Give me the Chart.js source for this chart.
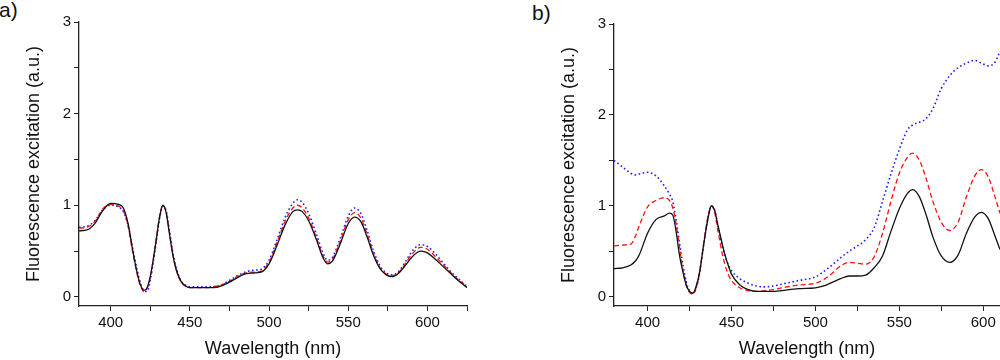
<!DOCTYPE html>
<html>
<head>
<meta charset="utf-8">
<script src="https://cdn.jsdelivr.net/npm/chart.js@4/dist/chart.umd.min.js"></script>
<style>
  html, body { margin:0; padding:0; background:#fff; width:1000px; height:360px; overflow:hidden; }
  .panel { position:absolute; top:0; }
  .tag { position:absolute; font-family:"Liberation Sans", Arial, sans-serif; font-size:21px; color:#111; line-height:1; }
</style>
</head>
<body>
<div class="tag" style="left:-1px; top:-1px;">a)</div>
<div class="tag" style="left:532px; top:2px;">b)</div>
<div class="panel" style="left:0;"><canvas id="chartA" width="500" height="360"></canvas></div>
<div class="panel" style="left:500px;"><canvas id="chartB" width="510" height="360"></canvas></div>
<script>
// panel a)
const wlA = [380,385,390,395,400,405,408,411,414,417,419,421,423,425,427,429,431,433,435,437,439,441,444,447,450,455,460,465,470,475,480,485,490,495,500,505,510,515,518,521,525,530,534,537,540,545,550,554,558,562,566,570,574,578,582,586,590,594,596,600,605,610,615,620,625];
const blackA = [0.72,0.73,0.80,0.94,1.02,1.01,0.97,0.80,0.50,0.24,0.12,0.07,0.10,0.22,0.42,0.65,0.88,1.00,0.92,0.70,0.48,0.32,0.18,0.12,0.10,0.10,0.10,0.10,0.12,0.16,0.21,0.25,0.26,0.27,0.36,0.56,0.78,0.93,0.95,0.93,0.83,0.62,0.43,0.36,0.39,0.58,0.80,0.87,0.82,0.65,0.45,0.31,0.24,0.22,0.26,0.34,0.43,0.49,0.50,0.48,0.41,0.33,0.25,0.17,0.10];
const redA   = [0.75,0.76,0.82,0.96,1.01,0.99,0.94,0.77,0.48,0.23,0.11,0.06,0.09,0.21,0.42,0.66,0.89,1.00,0.93,0.72,0.49,0.32,0.18,0.12,0.10,0.10,0.10,0.11,0.13,0.17,0.22,0.26,0.27,0.28,0.38,0.59,0.82,0.97,1.00,0.97,0.86,0.64,0.45,0.38,0.41,0.61,0.84,0.92,0.86,0.68,0.47,0.32,0.25,0.23,0.27,0.36,0.46,0.53,0.54,0.52,0.44,0.35,0.26,0.18,0.11];
const blueA  = [0.76,0.77,0.83,0.95,1.00,0.98,0.93,0.78,0.52,0.27,0.14,0.07,0.06,0.18,0.39,0.63,0.87,0.99,0.94,0.74,0.51,0.34,0.19,0.13,0.11,0.11,0.11,0.11,0.13,0.18,0.23,0.27,0.29,0.30,0.40,0.62,0.86,1.02,1.06,1.03,0.91,0.68,0.48,0.40,0.43,0.64,0.88,0.97,0.91,0.72,0.50,0.34,0.26,0.24,0.28,0.38,0.49,0.56,0.57,0.55,0.47,0.37,0.27,0.19,0.11];

// panel b)
const wlB = [380,385,390,393,395,400,405,410,413,415,417,419,421,423,425,427,429,431,433,435,437,438,440,442,444,446,448,450,455,460,465,470,475,480,490,500,505,510,515,520,525,530,535,540,545,550,555,558,562,566,570,575,580,585,590,595,599,603,607,610];
const blackB = [0.31,0.32,0.35,0.40,0.46,0.70,0.85,0.89,0.92,0.90,0.72,0.46,0.28,0.13,0.06,0.04,0.12,0.27,0.52,0.76,0.95,1.00,0.95,0.78,0.62,0.47,0.35,0.25,0.13,0.08,0.06,0.06,0.06,0.07,0.09,0.10,0.12,0.16,0.20,0.23,0.23,0.24,0.32,0.45,0.72,0.97,1.14,1.18,1.10,0.90,0.66,0.45,0.38,0.46,0.70,0.88,0.93,0.86,0.67,0.52];
const redB   = [0.56,0.57,0.58,0.68,0.78,0.99,1.06,1.09,1.06,0.98,0.80,0.55,0.30,0.13,0.05,0.03,0.10,0.27,0.53,0.78,0.96,1.00,0.93,0.72,0.52,0.36,0.25,0.18,0.10,0.07,0.06,0.07,0.08,0.10,0.13,0.15,0.19,0.26,0.34,0.38,0.37,0.36,0.44,0.70,1.05,1.36,1.54,1.58,1.50,1.30,1.05,0.82,0.73,0.82,1.10,1.33,1.40,1.32,1.10,0.92];
const blueB  = [1.50,1.43,1.36,1.34,1.35,1.37,1.33,1.22,1.13,1.05,0.85,0.60,0.36,0.17,0.07,0.04,0.10,0.26,0.52,0.77,0.96,1.00,0.95,0.78,0.60,0.46,0.36,0.29,0.20,0.15,0.12,0.11,0.12,0.14,0.18,0.22,0.28,0.35,0.43,0.50,0.56,0.63,0.76,1.05,1.35,1.62,1.84,1.89,1.92,1.96,2.07,2.29,2.43,2.52,2.57,2.60,2.57,2.54,2.58,2.70];

const xTicksA = [400,425,450,475,500,525,550,575,600,625];
const xTicksB = [400,425,450,475,500,525,550,575,600];
const yTicks = [0,0.5,1,1.5,2,2.5,3];

Chart.defaults.font.family = '"Liberation Sans", Arial, sans-serif';
Chart.defaults.color = '#111';

function pts(xs, ys){ return xs.map((x,i)=>({x:x, y:ys[i]})); }

function makeChart(id, wl, k, r, b, xmax, xTicks, pad){
  const axisCol = '#222';
  new Chart(document.getElementById(id), {
    type: 'line',
    data: {
      datasets: [
        { data: pts(wl,k), borderColor:'#111', borderWidth:1.3 },
        { data: pts(wl,r), borderColor:'#ff1010', borderWidth:1.3, borderDash:[5,3] },
        { data: pts(wl,b), borderColor:'#2020ff', borderWidth:1.6, borderDash:[1.6,2.6] }
      ]
    },
    options: {
      responsive:false, animation:false, devicePixelRatio:1,
      layout:{ padding: pad },
      elements:{ point:{ radius:0 }, line:{ cubicInterpolationMode:'monotone', fill:false } },
      plugins:{ legend:{display:false}, tooltip:{enabled:false} },
      scales:{
        x:{
          type:'linear', min:380, max:xmax,
          afterBuildTicks: s => { s.ticks = xTicks.map(v=>({value:v})); },
          afterFit: s => { s.height = 54; s.paddingLeft = 0; s.paddingRight = 0; },
          ticks:{ autoSkip:false, maxRotation:0, padding:3, font:{size:15},
                  callback: v => (v % 50 === 0 ? String(v) : '') },
          grid:{ drawOnChartArea:false, tickLength:5, tickColor:axisCol },
          border:{ display:true, color:axisCol, width:1.3 },
          title:{ display:true, text:'Wavelength (nm)', font:{size:18}, padding:0 }
        },
        y:{
          min:-0.1, max:3,
          afterBuildTicks: s => { s.ticks = yTicks.map(v=>({value:v})); },
          afterFit: s => { s.width = 56; },
          ticks:{ autoSkip:false, padding:3, font:{size:15},
                  callback: v => (Number.isInteger(v) ? String(v) : '') },
          grid:{ drawOnChartArea:false, tickLength:5, tickColor:axisCol },
          border:{ display:true, color:axisCol, width:1.3 },
          title:{ display:true, text:'Fluorescence excitation (a.u.)', font:{size:18}, padding:0 }
        }
      }
    }
  });
}

makeChart('chartA', wlA, blackA, redA, blueA, 625, xTicksA, {left:23, top:22, right:33, bottom:0});
makeChart('chartB', wlB, blackB, redB, blueB, 610, xTicksB, {left:58, top:24, right:10, bottom:0});
</script>
</body>
</html>
